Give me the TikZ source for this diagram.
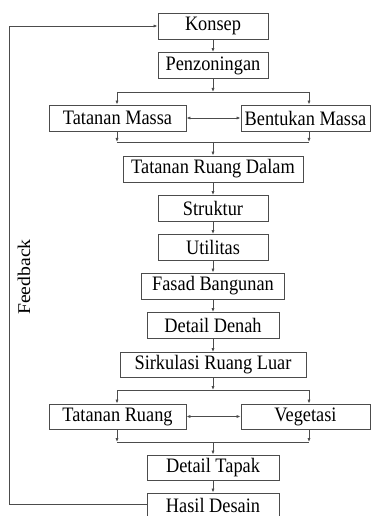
\documentclass[tikz,border=0pt]{standalone}
\usepackage{graphicx}
\usepackage{fontspec}
\setmainfont{Liberation Serif}
\usetikzlibrary{arrows.meta}
\newcommand{\stx}[1]{\scalebox{1}[1.12]{#1}}
\begin{document}
\begin{tikzpicture}[x=1bp,y=-1bp,
  box/.style={draw=black!70, line width=0.9bp, inner sep=0pt, minimum height=26bp,
    font=\fontsize{18.4}{20}\selectfont, text=black},
  con/.style={draw=black!70, line width=0.9bp},
  arr/.style={con, -{Latex[length=4bp,width=3.2bp]}},
  darr/.style={con, {Latex[length=4bp,width=3.2bp]}-{Latex[length=4bp,width=3.2bp]}}]
\useasboundingbox (0,0) rectangle (374,516);
\clip (0,0) rectangle (374,516);
% nodes
\node[box, minimum width=110bp] (k)   at (213,26)    {\stx{Konsep}};
\node[box, minimum width=110bp] (p)   at (213,65.5)  {\stx{Penzoningan}};
\node[box, minimum width=137bp] (tm)  at (117.5,118) {\stx{Tatanan Massa}};
\node[box, minimum width=129bp] (bm)  at (305.5,118) {\stx{Bentukan Massa}};
\node[box, minimum width=180bp] (trd) at (213,169)   {\stx{Tatanan Ruang Dalam}};
\node[box, minimum width=110bp] (st)  at (213,208.5) {\stx{Struktur}};
\node[box, minimum width=110bp] (ut)  at (213,247.5) {\stx{Utilitas}};
\node[box, minimum width=143bp] (fb)  at (213,286)   {\stx{Fasad Bangunan}};
\node[box, minimum width=132bp] (dd)  at (213,325.5) {\stx{Detail Denah}};
\node[box, minimum width=186bp, minimum height=25bp] (srl) at (213,365) {\stx{Sirkulasi Ruang Luar}};
\node[box, minimum width=137bp, minimum height=25bp] (tr)  at (117.5,416.5) {\stx{Tatanan Ruang}};
\node[box, minimum width=129bp, minimum height=25bp] (veg) at (305.5,416.5) {\stx{Vegetasi}};
\node[box, minimum width=132bp, minimum height=25bp] (dt)  at (213,467.5) {\stx{Detail Tapak}};
\node[box, minimum width=132bp, minimum height=24bp] (hd)  at (213,505) {\stx{Hasil Desain}};
\node[rotate=90, inner sep=0pt, font=\fontsize{18}{20}\selectfont, text=black] (fl) at (24,277) {\scalebox{1.1}[1]{Feedback}};
% junction coordinates
\coordinate (s1) at (213,92);  \coordinate (s1l) at (117,92);  \coordinate (s1r) at (309,92);
\coordinate (m1) at (213,142); \coordinate (m1l) at (117,142); \coordinate (m1r) at (309,142);
\coordinate (s2) at (213,390); \coordinate (s2l) at (117,390); \coordinate (s2r) at (309,390);
\coordinate (m2) at (213,442); \coordinate (m2l) at (117,442); \coordinate (m2r) at (309,442);
\coordinate (fbx) at (9,0);
% connectors
\draw[arr] (k) -- (p);
\draw[arr] (p) -- (s1);
\draw[con] (s1l) -- (s1r);
\draw[arr] (s1l) -- (s1l |- tm.north);
\draw[arr] (s1r) -- (s1r |- bm.north);
\draw[darr] (tm) -- (bm);
\draw[arr] (m1l |- tm.south) -- (m1l);
\draw[arr] (m1r |- bm.south) -- (m1r);
\draw[con] (m1l) -- (m1r);
\draw[arr] (m1) -- (trd);
\draw[arr] (trd) -- (st);
\draw[arr] (st) -- (ut);
\draw[arr] (ut) -- (fb);
\draw[arr] (fb) -- (dd);
\draw[arr] (dd) -- (srl);
\draw[arr] (srl) -- (s2);
\draw[con] (s2l) -- (s2r);
\draw[arr] (s2l) -- (s2l |- tr.north);
\draw[arr] (s2r) -- (s2r |- veg.north);
\draw[darr] (tr) -- (veg);
\draw[arr] (m2l |- tr.south) -- (m2l);
\draw[arr] (m2r |- veg.south) -- (m2r);
\draw[con] (m2l) -- (m2r);
\draw[arr] (m2) -- (dt);
\draw[arr] (dt) -- (hd);
\draw[arr] ([yshift=1bp]hd.west) -- ([yshift=1bp]hd.west -| fbx) |- (k.west);
\end{tikzpicture}
\end{document}
